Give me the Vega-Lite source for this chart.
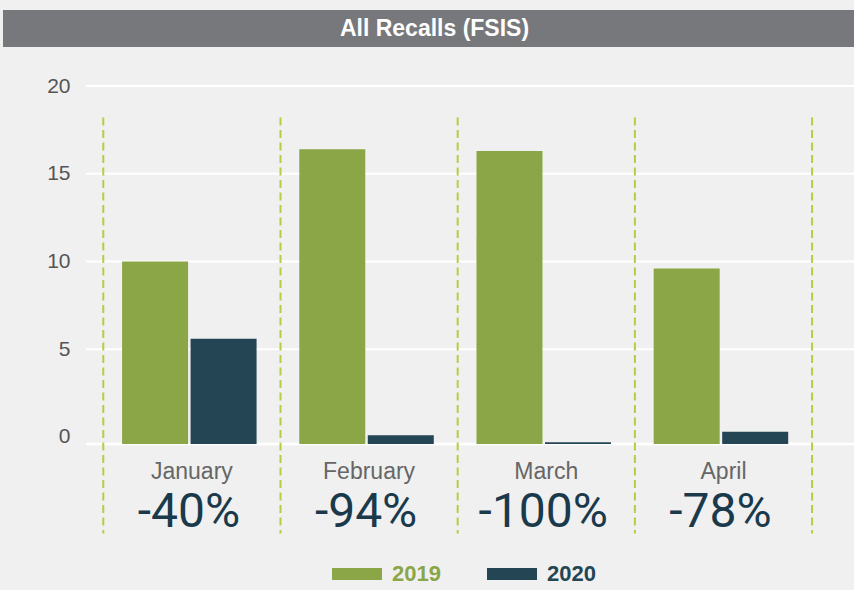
{
  "$schema": "https://vega.github.io/schema/vega-lite/v6.json",
  "background": "#f0f0f0",
  "padding": {"left": 3, "top": 10, "right": 0, "bottom": 6},
  "config": {"view": {"stroke": null}, "font": "Liberation Sans"},
  "spacing": 28,
  "datasets": {
    "bars": [
      {"month": "January", "year": "2019", "value": 10.0},
      {"month": "January", "year": "2020", "value": 5.6},
      {"month": "February", "year": "2019", "value": 16.4},
      {"month": "February", "year": "2020", "value": 0.1},
      {"month": "March", "year": "2019", "value": 16.3},
      {"month": "March", "year": "2020", "value": -0.3},
      {"month": "April", "year": "2019", "value": 9.6},
      {"month": "April", "year": "2020", "value": 0.3}
    ],
    "pct": [
      {"month": "January", "change": "-40%"},
      {"month": "February", "change": "-94%"},
      {"month": "March", "change": "-100%"},
      {"month": "April", "change": "-78%"}
    ],
    "grid": [{"v": 5}, {"v": 10}, {"v": 15}, {"v": 20}],
    "header": [{"t": "All Recalls (FSIS)"}]
  },
  "vconcat": [
    {
      "width": 851,
      "height": 37,
      "view": {"fill": "#77787b", "stroke": null},
      "data": {"name": "header"},
      "mark": {"type": "text", "color": "white", "fontSize": 23, "fontWeight": "bold", "baseline": "middle", "align": "center", "dx": 6},
      "encoding": {"text": {"field": "t", "type": "nominal"}}
    },
    {
      "width": 851,
      "height": 358,
      "layer": [
        {
          "data": {"name": "grid"},
          "mark": {"type": "rule", "color": "white", "strokeWidth": 2},
          "encoding": {
            "x": {"datum": "January", "bandPosition": -0.0976,
              "axis": {"title": null, "domain": false, "ticks": false, "grid": false, "labelAngle": 0, "labelFontSize": 23, "labelColor": "#666666", "labelPadding": 16, "bandPosition": 0.5, "labelAlign": "center", "labelBaseline": "top"}},
            "x2": {"datum": "April", "bandPosition": 1.237},
            "y": {"field": "v", "type": "quantitative"}
          }
        },
        {
          "data": {"name": "header"},
          "mark": {"type": "rule", "color": "white", "strokeWidth": 2.5},
          "encoding": {
            "x": {"datum": "January", "bandPosition": -0.0976},
            "x2": {"datum": "April", "bandPosition": 1.237},
            "y": {"datum": -0.4}
          }
        },
        {
          "data": {"name": "bars"},
          "mark": {"type": "bar"},
          "encoding": {
            "x": {
              "field": "month", "type": "nominal",
              "sort": ["January", "February", "March", "April"],
              "scale": {"domain": ["January", "February", "March", "April"], "paddingInner": 0, "paddingOuter": 0.4012, "align": 0.7053},
              "axis": {"title": null, "domain": false, "ticks": false, "grid": false, "labelAngle": 0, "labelFontSize": 23, "labelColor": "#666666", "labelPadding": 16, "bandPosition": 0.5, "labelAlign": "center", "labelBaseline": "top"}
            },
            "xOffset": {
              "field": "year", "type": "nominal",
              "scale": {"paddingInner": 0.0365, "paddingOuter": 0.3117, "align": 0.44}
            },
            "y": {
              "field": "value", "type": "quantitative",
              "scale": {"domain": [-0.4, 20], "nice": false, "zero": false},
              "axis": {
                "title": null, "values": [0, 5, 10, 15, 20], "domain": false, "ticks": false, "grid": false,
                "labelFontSize": 21, "labelColor": "#555555", "labelPadding": -67, "labelAlign": "right",
                "minExtent": 0
              }
            },
            "y2": {"datum": -0.4},
            "color": {
              "field": "year", "type": "nominal",
              "scale": {"domain": ["2019", "2020"], "range": ["#8ba646", "#244553"]},
              "legend": {
                "orient": "none", "legendX": 329, "legendY": 539, "direction": "horizontal", "title": null,
                "symbolType": "M-1,-0.24H1V0.24H-1Z", "symbolSize": 2500, "symbolStrokeWidth": 0, "symbolOpacity": 1,
                "labelFontSize": 22, "labelFontWeight": "bold", "labelOffset": 10, "columnPadding": 46,
                "encode": {"labels": {"update": {"fill": {"scale": "color", "field": "value"}}}}
              }
            }
          }
        },
        {
          "data": {"name": "pct"},
          "mark": {"type": "text", "font": "Roboto", "fontSize": 48, "color": "#1a3a4c", "baseline": "middle", "dy": 69, "dx": -3},
          "encoding": {
            "x": {"field": "month", "type": "nominal", "sort": ["January", "February", "March", "April"]},
            "y": {"datum": -0.4},
            "text": {"field": "change", "type": "nominal"}
          }
        },
        {
          "data": {"name": "pct"},
          "mark": {"type": "rule", "color": "#b5cc45", "strokeWidth": 2, "strokeDash": [8, 4.5]},
          "encoding": {
            "x": {"field": "month", "type": "nominal", "sort": ["January", "February", "March", "April"], "bandPosition": 0},
            "y": {"datum": 18.2},
            "y2": {"datum": -5.5}
          }
        },
        {
          "data": {"name": "pct"},
          "transform": [{"filter": "datum.month === 'April'"}],
          "mark": {"type": "rule", "color": "#b5cc45", "strokeWidth": 2, "strokeDash": [8, 4.5]},
          "encoding": {
            "x": {"field": "month", "type": "nominal", "sort": ["January", "February", "March", "April"], "bandPosition": 1},
            "y": {"datum": 18.2},
            "y2": {"datum": -5.5}
          }
        }
      ]
    }
  ]
}
